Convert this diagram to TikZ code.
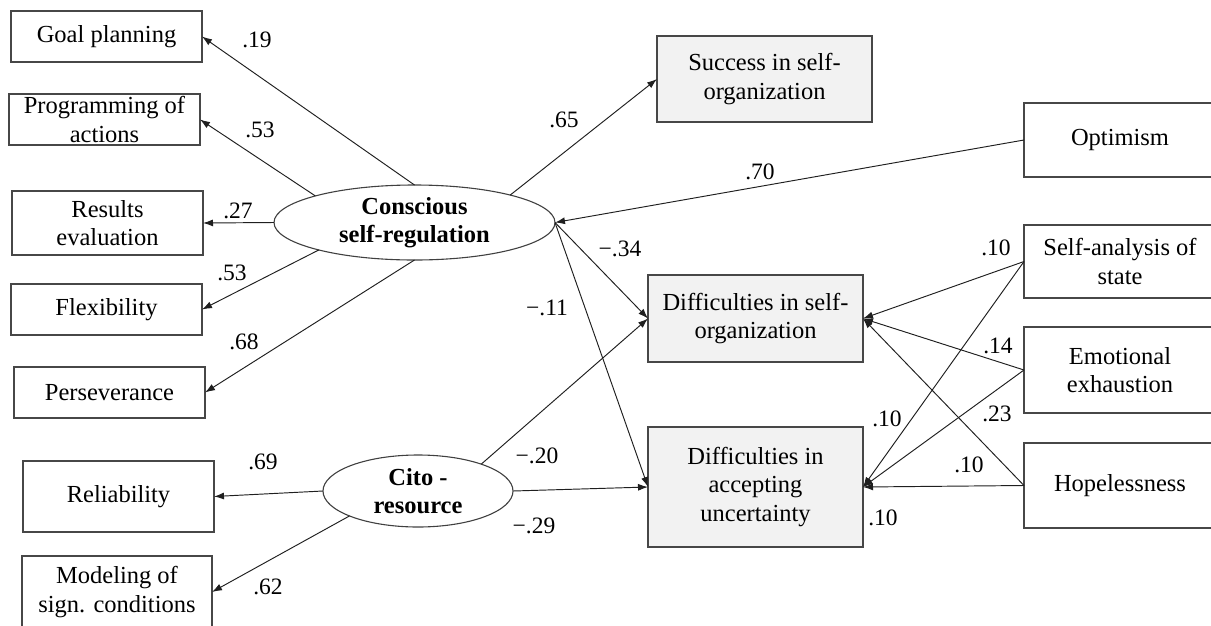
\documentclass[tikz,border=0pt]{standalone}
\usepackage{fontspec}
\setmainfont{Liberation Serif}
\usetikzlibrary{shapes.geometric,arrows.meta}
\begin{document}
\begin{tikzpicture}[x=1pt,y=-1pt,
  box/.style={draw=black!72,line width=1.1pt,rectangle,inner sep=0pt,outer sep=0pt,align=center,font=\fontsize{24.5}{28.5}\selectfont},
  gbox/.style={box,fill=black!5},
  lat/.style={draw=black!75,line width=1.1pt,ellipse,inner sep=0pt,outer sep=0pt,align=center,font=\fontsize{24.5}{28.5}\selectfont\bfseries},
  conn/.style={draw=black!88,line width=0.95pt,-{Latex[length=10pt,width=7pt]}},
  lbl/.style={font=\fontsize{23.5}{26}\selectfont,inner sep=0pt}]
\useasboundingbox (0,0) rectangle (1211,625);
\clip (0,0) rectangle (1211,625);
% left indicators
\node[box,minimum width=191,minimum height=51] (gp) at (106.5,36.5) {Goal planning};
\node[box,minimum width=191,minimum height=51] (pa) at (104.5,119.5) {Programming of\\actions};
\node[box,minimum width=191,minimum height=64] (re) at (107.5,223) {Results\\evaluation};
\node[box,minimum width=191,minimum height=51] (fl) at (106.5,309.5) {Flexibility};
\node[box,minimum width=191,minimum height=51] (pe) at (109.5,392.5) {Perseverance};
\node[box,minimum width=191,minimum height=71] (rl) at (118.5,496.5) {Reliability};
\node[box,minimum width=190,minimum height=72] (md) at (117,592) {Modeling of\\sign. conditions};
% latent variables
\node[lat,minimum width=281,minimum height=75] (csr) at (414.5,222.5) {Conscious\\self-regulation};
\node[lat,minimum width=190,minimum height=72] (cr) at (418,491) {Cito -\\resource};
% outcomes
\node[gbox,minimum width=215,minimum height=86] (sso) at (764.5,79) {Success in self-\\organization};
\node[gbox,minimum width=215,minimum height=87] (dso) at (755.5,318.5) {Difficulties in self-\\organization};
\node[gbox,minimum width=215,minimum height=120] (dau) at (755.5,487) {Difficulties in\\accepting\\uncertainty};
% right predictors
\node[box,minimum width=192,minimum height=74] (op) at (1120,140) {Optimism};
\node[box,minimum width=192,minimum height=73] (sa) at (1120,261.5) {Self-analysis of\\state};
\node[box,minimum width=192,minimum height=86] (ee) at (1120,370) {Emotional\\exhaustion};
\node[box,minimum width=192,minimum height=85] (hp) at (1120,485.5) {Hopelessness};
% connectors
\draw[conn] (csr.90) -- (gp.east);
\draw[conn] (csr.165) -- (pa.east);
\draw[conn] (csr.west) -- (re.east);
\draw[conn] (csr.196) -- (fl.east);
\draw[conn] (csr.270) -- (pe.east);
\draw[conn] (csr.16) -- (sso.west);
\draw[conn] (op.west) -- (csr.east);
\draw[conn] (csr.east) -- (dso.west);
\draw[conn] (csr.east) -- (dau.west);
\draw[conn] (cr.23) -- (dso.west);
\draw[conn] (cr.east) -- (dau.west);
\draw[conn] (cr.west) -- (rl.east);
\draw[conn] (cr.200) -- (md.east);
\foreach \s in {sa,ee,hp}{
  \draw[conn] (\s.west) -- (dso.east);
  \draw[conn] (\s.west) -- (dau.east);
}
% labels
\node[lbl] (l1) at (257,40) {.19};
\node[lbl] (l2) at (260,130) {.53};
\node[lbl] (l3) at (238,211) {.27};
\node[lbl] (l4) at (232,273) {.53};
\node[lbl] (l5) at (244,342) {.68};
\node[lbl] (l6) at (263,462) {.69};
\node[lbl] (l7) at (268,587) {.62};
\node[lbl] (l8) at (564,120) {.65};
\node[lbl] (l9) at (760,172) {.70};
\node[lbl] (l10) at (620,249) {−.34};
\node[lbl] (l11) at (547,308) {−.11};
\node[lbl] (l12) at (537,456) {−.20};
\node[lbl] (l13) at (534,526) {−.29};
\node[lbl] (l14) at (996,248) {.10};
\node[lbl] (l15) at (998,346) {.14};
\node[lbl] (l16) at (997,414) {.23};
\node[lbl] (l17) at (887,419) {.10};
\node[lbl] (l18) at (969,465) {.10};
\node[lbl] (l19) at (883,518) {.10};
\end{tikzpicture}
\end{document}
